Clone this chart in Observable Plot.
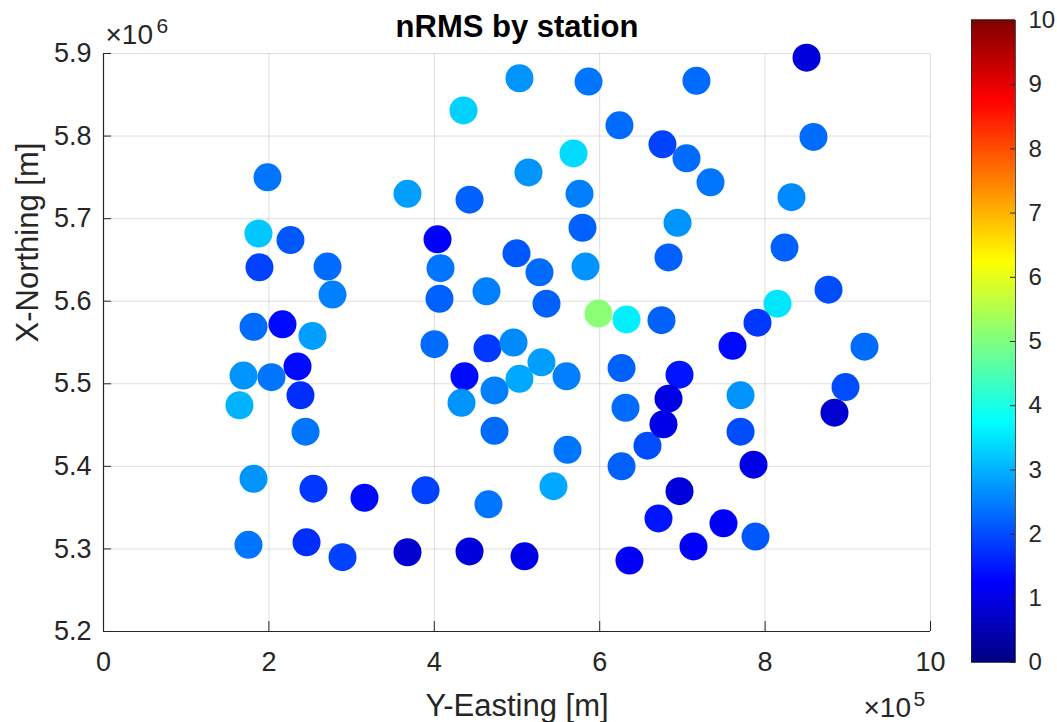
<!DOCTYPE html>
<html><head><meta charset="utf-8">
<script src="https://cdn.jsdelivr.net/npm/d3@7"></script>
<script src="https://cdn.jsdelivr.net/npm/@observablehq/plot@0.6"></script>
<style>
body{margin:0;background:#fff;}
#wrap{position:relative;width:1057px;height:722px;overflow:hidden;background:#fff;}
#wrap svg{position:absolute;top:0;}
</style></head><body><div id="wrap"></div>
<script>
// Station coordinates (m) and nRMS values
const easting = [435300,503000,586500,717000,850100,623900,675900,705000,734000,858500,
  568300,513900,575600,831900,694100,579200,198300,367600,442600,187400,
  226100,403900,188600,270900,407500,499400,527200,582800,683200,823500,
  276900,406300,463100,876700,535700,598500,632400,674700,815000,790800,
  181400,216400,252700,400200,464300,495800,760600,920200,169300,203100,
  234600,238200,164400,244300,436500,432900,472800,503000,529600,559900,
  472800,626400,696500,683200,631200,657800,677100,770300,770300,897200,
  883900,561100,626400,786000,181400,253900,315600,389400,465500,544100,
  696500,671100,749700,788400,713400,175300,245500,289000,367600,442600,
  509100,636000];
const northing = [5831000,5870000,5866000,5867000,5895000,5813000,5790000,5773000,5744000,5799000,
  5779000,5756000,5730000,5726000,5695000,5689000,5750000,5730000,5723000,5682000,
  5674000,5675000,5641000,5642000,5640000,5658000,5635000,5642000,5653000,5665000,
  5608000,5603000,5612000,5614000,5597000,5585000,5578000,5577000,5597000,5574000,
  5569000,5572000,5558000,5548000,5543000,5550000,5546000,5545000,5510000,5508000,
  5521000,5486000,5474000,5442000,5509000,5477000,5492000,5506000,5526000,5509000,
  5443000,5519000,5511000,5482000,5471000,5425000,5451000,5486000,5442000,5496000,
  5465000,5420000,5400000,5402000,5385000,5373000,5362000,5371000,5354000,5376000,
  5370000,5337000,5331000,5315000,5303000,5305000,5308000,5290000,5296000,5297000,
  5291000,5286000];
const nrms = [3.3,2.7,2.4,2.3,0.9,2.3,1.9,2.3,2.4,2.3,
  3.4,2.7,2.5,2.6,2.7,2.2,2.4,2.8,2.2,3.2,
  2.1,1.25,1.9,2.3,2.4,2.1,2.3,2.7,2.2,2.2,
  2.5,2.2,2.5,2.0,2.2,5.1,3.6,2.2,3.5,1.8,
  2.3,1.35,2.8,2.3,1.8,2.6,1.35,2.3,2.7,2.4,
  1.35,1.7,3.0,2.4,1.35,2.7,2.5,2.9,2.8,2.5,
  2.3,2.2,1.45,1.0,2.3,2.0,1.0,2.7,2.0,2.0,
  0.8,2.4,2.2,1.0,2.7,1.8,1.35,1.9,2.4,2.9,
  0.9,1.45,1.2,2.1,1.2,2.4,1.7,1.9,0.8,0.9,
  1.0,1.2];

const xTicks = [0, 200000, 400000, 600000, 800000, 1000000];
const yTicks = [5200000, 5300000, 5400000, 5500000, 5600000, 5700000, 5800000, 5900000];
const cbTicks = [0,1,2,3,4,5,6,7,8,9,10];

const titleText = "nRMS by station";
const xLabel = "Y-Easting [m]";
const yLabel = "X-Northing [m]";

const stations = easting.map((e, i) => ({e, n: northing[i], v: nrms[i]}));

const FONT = "'Liberation Sans', Arial, Helvetica, sans-serif";
const INK = "#262626";
const colorScale = {
  type: "linear",
  domain: [0, 1.25, 3.75, 6.25, 8.75, 10],
  range: ["#000080", "#0000ff", "#00ffff", "#ffff00", "#ff0000", "#800000"],
  interpolate: "rgb",
  clamp: true
};

const W = 960, H = 722;
const mL = 103, mR = 30, mT = 53, mB = 91;
const fw = W - mL - mR, fh = H - mT - mB;

const main = Plot.plot({
  width: W, height: H,
  marginLeft: mL, marginRight: mR, marginTop: mT, marginBottom: mB,
  style: {fontFamily: FONT, color: INK, background: "transparent", overflow: "visible"},
  x: {domain: [0, 1000000]},
  y: {domain: [5200000, 5900000]},
  color: colorScale,
  marks: [
    Plot.ruleX(xTicks, {stroke: INK, strokeOpacity: 0.15}),
    Plot.ruleY(yTicks, {stroke: INK, strokeOpacity: 0.15}),
    Plot.ruleX([0], {stroke: INK, strokeWidth: 1.2}),
    Plot.ruleY([5200000], {stroke: INK, strokeWidth: 1.2}),
    Plot.ruleX(xTicks, {stroke: INK, insetTop: fh - 10}),
    Plot.ruleY(yTicks, {stroke: INK, insetRight: fw - 8}),
    Plot.dot(stations, {x: "e", y: "n", fill: "v", r: 14}),
    Plot.axisX(xTicks, {tickSize: 0, tickPadding: 20, fontSize: 27, tickFormat: d => d / 100000, label: null}),
    Plot.axisY(yTicks, {tickSize: 0, tickPadding: 12, fontSize: 27, tickFormat: d => (d / 1000000).toFixed(1), label: null}),
    Plot.text([xLabel], {frameAnchor: "bottom", lineAnchor: "bottom", dy: 84, fontSize: 31, fill: INK}),
    Plot.text([yLabel], {frameAnchor: "left", lineAnchor: "bottom", rotate: -90, dx: -66, fontSize: 31, fill: INK}),
    Plot.text([titleText], {frameAnchor: "top", lineAnchor: "bottom", dy: -17, fontSize: 31, fontWeight: "bold", fill: "#000"}),
    Plot.text(["×10"], {frameAnchor: "top-left", textAnchor: "start", lineAnchor: "bottom", dx: 2, dy: -10, fontSize: 28, fill: INK}),
    Plot.text(["6"], {frameAnchor: "top-left", textAnchor: "start", lineAnchor: "bottom", dx: 53, dy: -21, fontSize: 21, fill: INK}),
    Plot.text(["×10"], {frameAnchor: "bottom-right", textAnchor: "start", lineAnchor: "bottom", dx: -67, dy: 85, fontSize: 28, fill: INK}),
    Plot.text(["5"], {frameAnchor: "bottom-right", textAnchor: "start", lineAnchor: "bottom", dx: -17, dy: 74, fontSize: 21, fill: INK})
  ]
});
main.style.left = "0px";

// Colorbar
const cbN = 256, cbStep = 10 / cbN;
const cbSlices = d3.range(cbN).map(i => i * cbStep);
const cbW = 97, cbL = 11, cbR = 42, cbT = 20, cbB = 60;
const cb = Plot.plot({
  width: cbW, height: H,
  marginLeft: cbL, marginRight: cbR, marginTop: cbT, marginBottom: cbB,
  style: {fontFamily: FONT, color: INK, background: "transparent", overflow: "visible"},
  x: {domain: [0, 1], axis: null},
  y: {domain: [0, 10]},
  color: colorScale,
  marks: [
    Plot.rect(cbSlices, {x1: 0, x2: 1, y1: d => d, y2: d => d + cbStep * 1.3, fill: d => d + cbStep / 2}),
    Plot.ruleY(cbTicks, {stroke: INK, insetLeft: (cbW - cbL - cbR) - 5}),
    Plot.frame({stroke: INK, strokeWidth: 0.8}),
    Plot.axisY(cbTicks, {anchor: "right", tickSize: 0, tickPadding: 13, fontSize: 24, tickFormat: d => String(d), label: null})
  ]
});
cb.style.left = "960px";

const wrap = document.getElementById("wrap");
wrap.appendChild(main);
wrap.appendChild(cb);
</script>
</body></html>
